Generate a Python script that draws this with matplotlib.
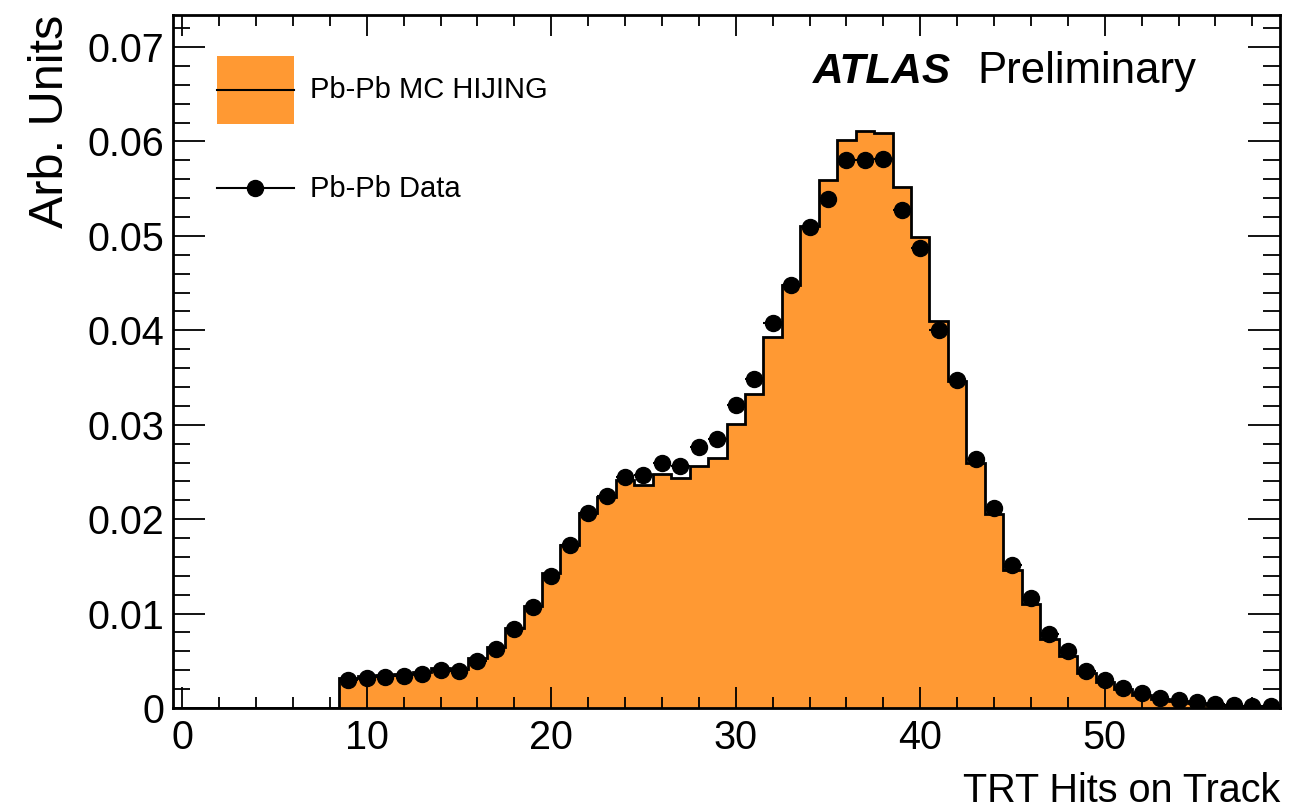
import matplotlib
matplotlib.use('Agg')
import matplotlib.pyplot as plt
import numpy as np
from matplotlib.patches import Rectangle
from matplotlib.lines import Line2D
from matplotlib.legend_handler import HandlerBase
from matplotlib.ticker import MultipleLocator, FuncFormatter

plt.rcParams['font.family'] = ['Liberation Sans', 'DejaVu Sans']

# MC HIJING, bins 0..59 (centred on integers)
mc_vals = [0, 0, 0, 0, 0, 0, 0, 0, 0,
           0.0032, 0.0034, 0.0035, 0.0036, 0.0038, 0.0042, 0.0041, 0.0053, 0.0065, 0.0085,
           0.0108, 0.0143, 0.0173, 0.0207, 0.0223, 0.0242, 0.0236, 0.0248, 0.0244, 0.0256,
           0.0265, 0.0301, 0.0333, 0.0393, 0.0448, 0.0511, 0.0559, 0.0602, 0.0611, 0.0609,
           0.0552, 0.0499, 0.0410, 0.0346, 0.0260, 0.0205, 0.0146, 0.0110, 0.0073, 0.0055,
           0.0037, 0.0028, 0.0020, 0.0014, 0.0010, 0.0007, 0.0005, 0.0003, 0.0002, 0.0001,
           0.00005]

# Pb-Pb data, bins 9..59
data_x = list(range(9, 60))
data_vals = [0.0030, 0.0032, 0.0033, 0.0034, 0.0036, 0.0040, 0.0039, 0.0050, 0.0062, 0.0084,
             0.0107, 0.0140, 0.0173, 0.0207, 0.0225, 0.0245, 0.0247, 0.0260, 0.0256, 0.0276,
             0.0285, 0.0321, 0.0348, 0.0408, 0.0448, 0.0509, 0.0539, 0.0580, 0.0580, 0.0581,
             0.0527, 0.0487, 0.0400, 0.0347, 0.0264, 0.0212, 0.0151, 0.0117, 0.0078, 0.0060,
             0.0039, 0.0030, 0.0021, 0.0016, 0.0011, 0.00085, 0.00065, 0.00048, 0.00033, 0.00025,
             0.00018]

orange = '#ff9933'
edges = np.arange(-0.5, 60.5, 1.0)


class CentredHandler(HandlerBase):
    """Legend entry: optional filled box, a horizontal line and optional marker, all centred."""
    def __init__(self, fill=None, marker=None):
        super().__init__()
        self.fill = fill
        self.marker = marker

    def create_artists(self, legend, orig_handle, xdescent, ydescent, width, height,
                       fontsize, trans):
        x0, y0 = -xdescent, -ydescent
        yc = y0 + height / 2
        artists = []
        if self.fill is not None:
            artists.append(Rectangle((x0, y0), width, height, facecolor=self.fill,
                                     edgecolor='none', transform=trans))
        artists.append(Line2D([x0, x0 + width], [yc, yc], color='black', lw=1.5,
                              transform=trans))
        if self.marker is not None:
            artists.append(Line2D([x0 + width / 2], [yc], color='black', marker=self.marker,
                                  ms=11.5, ls='none', transform=trans))
        return artists


fig = plt.figure(figsize=(13.02, 8.09), dpi=100)
ax = fig.add_axes([0.1329, 0.1248, 0.8502, 0.8567])

ax.stairs(mc_vals, edges, fill=True, color=orange, lw=0)
ax.stairs(mc_vals, edges, color='black', lw=2)
ax.errorbar(data_x, data_vals, xerr=0.5, fmt='o', color='black', ms=11.5,
            elinewidth=1.5, capsize=0)

ax.set_xlim(-0.5, 59.5)
ax.set_ylim(0, 0.0734)

ax.xaxis.set_major_locator(MultipleLocator(10))
ax.xaxis.set_minor_locator(MultipleLocator(2))
ax.yaxis.set_major_locator(MultipleLocator(0.01))
ax.yaxis.set_minor_locator(MultipleLocator(0.002))
ax.yaxis.set_major_formatter(FuncFormatter(lambda v, p: '0' if abs(v) < 1e-9 else f'{v:.2f}'))
ax.set_xticks([0, 10, 20, 30, 40, 50])

ax.tick_params(axis='both', which='both', direction='in', top=True, right=True,
               labelsize=28.5, width=1.3)
ax.tick_params(axis='x', which='major', length=15, pad=8)
ax.tick_params(axis='x', which='minor', length=8)
ax.tick_params(axis='y', which='major', length=23, pad=6)
ax.tick_params(axis='y', which='minor', length=12)
for s in ax.spines.values():
    s.set_linewidth(2)

ax.set_xlabel('TRT Hits on Track', fontsize=28.5, loc='right')
ax.xaxis.set_label_coords(1.0, -0.093)
ax.set_ylabel('Arb. Units', fontsize=35, loc='top')
ax.yaxis.set_label_coords(-0.09, 1.0)

ax.text(0.578, 0.9019, 'ATLAS', transform=ax.transAxes, fontsize=30.5,
        fontweight='bold', fontstyle='italic', va='baseline')
ax.text(0.7263, 0.9019, 'Preliminary', transform=ax.transAxes, fontsize=31.5,
        va='baseline')

mc_key = Rectangle((0, 0), 1, 1)
data_key = Line2D([], [])
ax.legend([mc_key, data_key], ['Pb-Pb MC HIJING', 'Pb-Pb Data'],
          handler_map={mc_key: CentredHandler(fill=orange),
                       data_key: CentredHandler(marker='o')},
          loc='upper left', bbox_to_anchor=(0.0397, 0.9408), frameon=False,
          fontsize=21, borderpad=0, borderaxespad=0, handlelength=2.64,
          handleheight=3.2, handletextpad=0.55, labelspacing=1.05)

fig.savefig('out.png', dpi=100)
